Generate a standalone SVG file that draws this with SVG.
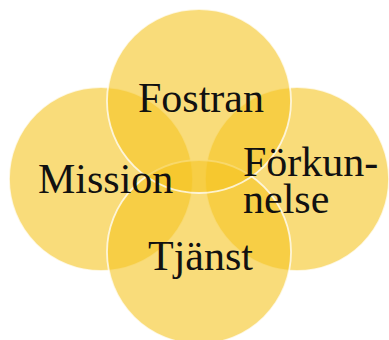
<svg xmlns="http://www.w3.org/2000/svg" width="389" height="340" viewBox="0 0 389 340">
  <style>
    .c { fill: #F5C422; fill-opacity: 0.6; stroke: #FFFFFF; stroke-opacity: 0.75; stroke-width: 1.8; }
    .t { font-family: "Liberation Serif", "Times New Roman", serif; font-size: 42px; fill: #111111; }
  </style>
  <rect width="389" height="340" fill="#FFFFFF"/>
  <g id="node-mission">
    <circle class="c" cx="101" cy="179" r="92"/>
  </g>
  <g id="node-forkunnelse">
    <circle class="c" cx="297" cy="179" r="92"/>
  </g>
  <g id="node-tjanst">
    <circle class="c" cx="199" cy="252" r="92"/>
  </g>
  <g id="node-fostran">
    <circle class="c" cx="199" cy="101" r="92"/>
  </g>
  <g id="connectors"></g>
  <g id="labels">
    <text class="t" x="138" y="112">Fostran</text>
    <text class="t" x="38" y="193">Mission</text>
    <text class="t" x="243" y="176">Förkun-<tspan x="243" dy="37">nelse</tspan></text>
    <text class="t" x="148" y="270">Tjänst</text>
  </g>
</svg>
